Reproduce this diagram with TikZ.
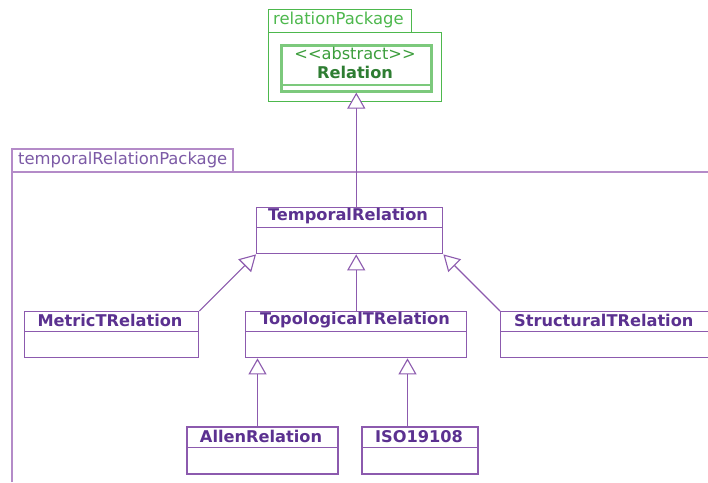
\documentclass[tikz,border=0pt]{standalone}
\usepackage{fontspec}
\setmainfont{DejaVu Sans}
\usetikzlibrary{arrows.meta}
\definecolor{pkggreen}{HTML}{4DB84D}
\definecolor{relgreen}{HTML}{7CC97C}
\definecolor{txtgreen}{HTML}{2E7D32}
\definecolor{absgreen}{HTML}{3C9E3C}
\definecolor{pkgpurple}{HTML}{B48BC8}
\definecolor{clspurple}{HTML}{8C5AAE}
\definecolor{txtpurple}{HTML}{5B3190}
\tikzset{
  pkgline/.style={draw=pkgpurple, line width=2pt},
  pkgtxt/.style={text=txtpurple!80, font=\fontsize{16.4}{18}\selectfont, inner sep=0pt},
  gpkgline/.style={draw=pkggreen, line width=1pt},
  gpkgtxt/.style={text=pkggreen, font=\fontsize{16.4}{18}\selectfont, inner sep=0pt},
  clsbox/.style={draw=clspurple, line width=1.4pt, fill=white, inner sep=0pt, anchor=north west},
  clsname/.style={text=txtpurple, font=\bfseries\fontsize{16.2}{18}\selectfont, inner sep=0pt, anchor=center},
  clssep/.style={draw=clspurple, line width=1pt},
  inh/.style={draw=clspurple, line width=1.1pt, -{Triangle[open, width=18pt, length=16pt, fill=white]}},
}
\begin{document}
\begin{tikzpicture}[x=1pt, y=-1pt]
\useasboundingbox (0,0) rectangle (708,482);
\clip (0,0) rectangle (708,482);
\fill[white] (0,0) rectangle (708,482);

% relationPackage
\draw[gpkgline] (268,9) rectangle (411,32);
\node[gpkgtxt, anchor=west] (rpkg) at (273,20) {relationPackage};
\draw[gpkgline] (268,32) rectangle (441,101);
\node[draw=relgreen, line width=2.6pt, minimum width=150pt, minimum height=46pt, inner sep=0pt, anchor=north west] (rel) at (280,44) {};
\draw[relgreen, line width=2pt] (281,84.5) -- (430,84.5);
\node[text=absgreen, font=\fontsize{16.2}{18}\selectfont, inner sep=0pt] (abs) at (355,53) {{<}{<}abstract{>}{>}};
\node[text=txtgreen, font=\bfseries\fontsize{16.2}{18}\selectfont, inner sep=0pt] (reln) at (355,72) {Relation};

% temporalRelationPackage
\draw[pkgline] (12,482) -- (12,149) -- (233,149) -- (233,172);
\draw[pkgline] (12,172) -- (720,172);
\node[pkgtxt, anchor=west] (tpkg) at (18,160) {temporalRelationPackage};

% classes
\node[clsbox, minimum width=186pt, minimum height=46pt] (tr) at (256,207) {};
\node[clsname] at (348,216.5) {TemporalRelation};
\draw[clssep] (256,227) -- (442,227);

\node[clsbox, minimum width=174pt, minimum height=46pt] (mt) at (24,311) {};
\node[clsname] at (110,320.5) {MetricTRelation};
\draw[clssep] (24,331) -- (198,331);

\node[clsbox, minimum width=221pt, minimum height=46pt] (tt) at (245,311) {};
\node[clsname] at (355,320.5) {TopologicalTRelation};
\draw[clssep] (245,331) -- (466,331);

\node[clsbox, minimum width=230pt, minimum height=46pt] (st) at (500,311) {};
\node[clsname, anchor=west] at (514,320.5) {StructuralTRelation};
\draw[clssep] (500,331) -- (730,331);

\node[clsbox, minimum width=151pt, minimum height=47pt, line width=2pt] (al) at (186,426) {};
\node[clsname] at (261,436.5) {AllenRelation};
\draw[clssep] (186,447) -- (337,447);

\node[clsbox, minimum width=116pt, minimum height=47pt, line width=2pt] (iso) at (361,426) {};
\node[clsname] at (419,436.5) {ISO19108};
\draw[clssep] (361,447) -- (477,447);

% inheritance
\draw[inh] (tr.north -| rel.south) -- (rel.south);
\draw[inh] (mt.north east) -- (tr.south west);
\draw[inh] (tt.north) -- (tr.south -| tt.north);
\draw[inh] (st.north west) -- (tr.south east);
\draw[inh] (al.north -| 257.5,0) -- (tt.south -| 257.5,0);
\draw[inh] (iso.north -| 407.5,0) -- (tt.south -| 407.5,0);
\end{tikzpicture}
\end{document}
